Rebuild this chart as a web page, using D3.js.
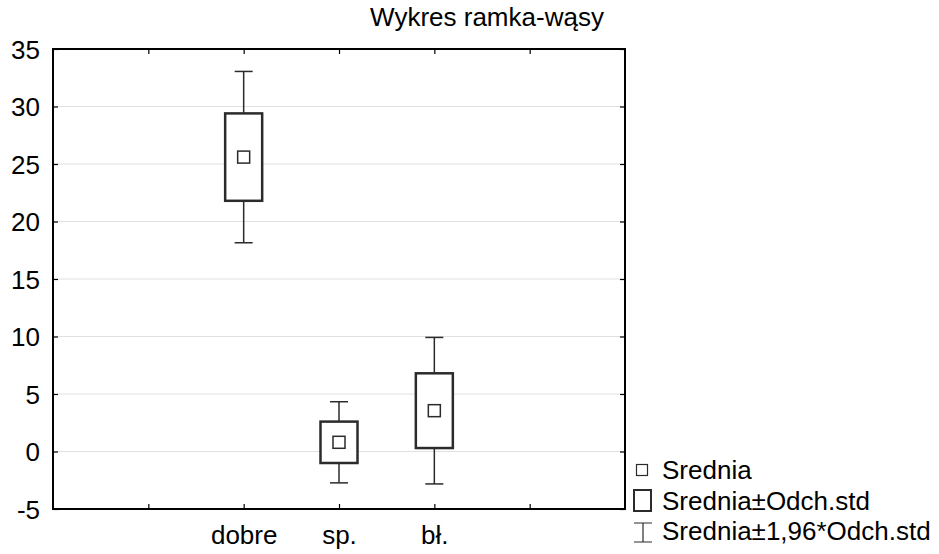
<!DOCTYPE html>
<html>
<head>
<meta charset="utf-8">
<script src="https://cdn.jsdelivr.net/npm/d3@7"></script>
<style>
  body { margin: 0; background: #fff; }
  svg { display: block; font-family: "Liberation Sans", Arial, sans-serif; }
</style>
</head>
<body>
<svg id="chart" width="939" height="554"></svg>
<script>
// Data
const slots      = ["", "dobre", "sp.", "bł.", " "];
const categories = ["dobre", "sp.", "bł."];
const means      = [25.6, 0.8, 3.55];
const stdDevs    = [3.8, 1.8, 3.25];
const yTicks     = [-5, 0, 5, 10, 15, 20, 25, 30, 35];
const legendLabels = ["Srednia", "Srednia±Odch.std", "Srednia±1,96*Odch.std"];

const svg = d3.select("#chart");
const margin = {top: 49, right: 314, bottom: 45, left: 53};
const width  = 939 - margin.left - margin.right;
const height = 554 - margin.top - margin.bottom;

const fontSize = 26;

const x = d3.scalePoint().domain(slots).range([0, width]).padding(1);
const y = d3.scaleLinear().domain([-5, 35]).range([height, 0]);

const g = svg.append("g").attr("transform", `translate(${margin.left},${margin.top})`);

// Grid
g.append("g")
    .selectAll("line")
    .data(yTicks.filter(d => d > -5 && d < 35))
    .join("line")
    .attr("x1", 0).attr("x2", width)
    .attr("y1", d => y(d)).attr("y2", d => y(d))
    .attr("stroke", "#e0e0e0").attr("stroke-width", 1);

// Axes (inward ticks)
const styleAxis = sel => {
    sel.select(".domain").remove();
    sel.selectAll(".tick line").attr("stroke", "#000").attr("stroke-width", 1.2);
    sel.selectAll(".tick text").attr("font-size", fontSize).attr("fill", "#000")
        .attr("font-family", "Liberation Sans, Arial, sans-serif");
};

g.append("g")
    .call(d3.axisLeft(y).tickValues(yTicks).tickSize(-5).tickPadding(13).tickFormat(d => String(d)))
    .call(styleAxis)
    .call(a => a.selectAll(".tick text").attr("dy", "0.36em"));

g.append("g").attr("transform", `translate(${width},0)`)
    .call(d3.axisRight(y).tickValues(yTicks).tickSize(-5).tickFormat(""))
    .call(styleAxis);

g.append("g").attr("transform", `translate(0,${height})`)
    .call(d3.axisBottom(x).tickSize(-5).tickPadding(17))
    .call(styleAxis)
    .call(a => a.selectAll(".tick text").attr("dy", "0.71em"));

g.append("g")
    .call(d3.axisTop(x).tickSize(-5).tickFormat(""))
    .call(styleAxis);

// Frame
g.append("rect")
    .attr("width", width).attr("height", height)
    .attr("fill", "none").attr("stroke", "#000").attr("stroke-width", 2);

// Boxes
const boxW = 37, capW = 18, markW = 12;
const dark = "#2b2b2b";

const box = g.selectAll(".box")
    .data(categories.map((c, i) => ({cat: c, mean: means[i], sd: stdDevs[i]})))
    .join("g")
    .attr("class", "box")
    .attr("transform", d => `translate(${x(d.cat)},0)`);

box.append("line")
    .attr("y1", d => y(d.mean + 1.96 * d.sd)).attr("y2", d => y(d.mean - 1.96 * d.sd))
    .attr("stroke", dark).attr("stroke-width", 1.5);

[1, -1].forEach(s => {
    box.append("line")
        .attr("x1", -capW / 2).attr("x2", capW / 2)
        .attr("y1", d => y(d.mean + s * 1.96 * d.sd)).attr("y2", d => y(d.mean + s * 1.96 * d.sd))
        .attr("stroke", dark).attr("stroke-width", 1.5);
});

box.append("rect")
    .attr("x", -boxW / 2).attr("width", boxW)
    .attr("y", d => y(d.mean + d.sd))
    .attr("height", d => y(d.mean - d.sd) - y(d.mean + d.sd))
    .attr("fill", "#fff").attr("stroke", dark).attr("stroke-width", 2.5);

box.append("rect")
    .attr("x", -markW / 2).attr("width", markW)
    .attr("y", d => y(d.mean) - markW / 2).attr("height", markW)
    .attr("fill", "#fff").attr("stroke", dark).attr("stroke-width", 1.5);

// Title
svg.append("text")
    .attr("x", 487).attr("y", 26)
    .attr("text-anchor", "middle").attr("font-size", fontSize)
    .text("Wykres ramka-wąsy");

// Legend
const legend = svg.append("g").attr("transform", "translate(642,470)");
const lh = 30.5;
legendLabels.forEach((t, i) => {
    legend.append("text")
        .attr("x", 20).attr("y", i * lh).attr("dy", "0.36em")
        .attr("font-size", fontSize).text(t);
});
legend.append("rect")
    .attr("x", -5.5).attr("y", -5.5).attr("width", 11).attr("height", 11)
    .attr("fill", "#fff").attr("stroke", dark).attr("stroke-width", 1.2);
legend.append("rect")
    .attr("x", -8).attr("y", lh - 10.5).attr("width", 17).attr("height", 21)
    .attr("fill", "#fff").attr("stroke", dark).attr("stroke-width", 2);
legend.append("path")
    .attr("d", `M-8,${2 * lh - 8}H10M1,${2 * lh - 8}V${2 * lh + 11}M-8,${2 * lh + 11}H10`)
    .attr("fill", "none").attr("stroke", dark).attr("stroke-width", 1.2);
</script>
</body>
</html>
